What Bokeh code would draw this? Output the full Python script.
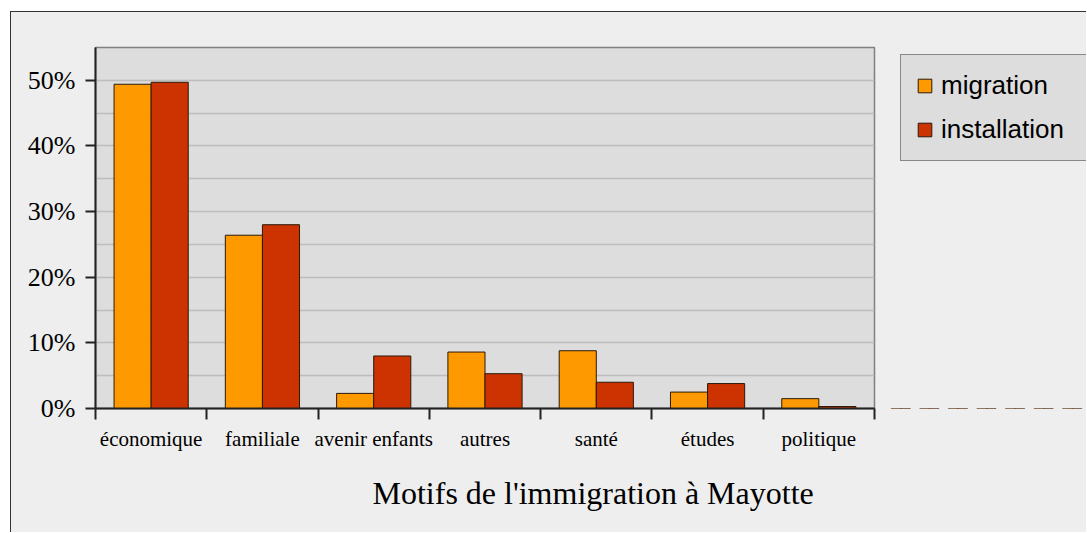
from bokeh.plotting import figure
from bokeh.layouts import row
from bokeh.models import (ColumnDataSource, Range1d, LinearAxis,
                          FixedTicker, SingleIntervalTicker, NumeralTickFormatter, Legend, LegendItem, Title)
from bokeh.transform import dodge
from bokeh.embed import file_html
from bokeh.resources import INLINE

categories = ["économique", "familiale", "avenir enfants", "autres", "santé", "études", "politique"]
migration = [0.494, 0.264, 0.023, 0.086, 0.088, 0.025, 0.015]
installation = [0.497, 0.280, 0.080, 0.053, 0.040, 0.038, 0.003]
series_names = ["migration", "installation"]
series_cols = ["migration", "installation"]
series_colors = ["#ff9900", "#cc3300"]
title_text = "Motifs de l'immigration à Mayotte"

n = len(categories)
centers = [i + 0.5 for i in range(n)]
bounds = list(range(n + 1))
source = ColumnDataSource(dict(cat=categories, pos=centers, migration=migration, installation=installation))

BG = "#eeeeee"

p = figure(width=875, height=520, x_range=Range1d(0, n),
           y_range=Range1d(0, 0.55), output_backend="svg", toolbar_location=None,
           x_axis_location=None, y_axis_location="left",
           min_border_left=84, min_border_top=35, min_border_right=12, min_border_bottom=124)
p.background_fill_color = "#dddddd"
p.border_fill_color = BG
p.outline_line_color = "#808080"
p.outline_line_width = 1.5

# y axis
ya = p.yaxis[0]
ya.ticker = SingleIntervalTicker(interval=0.1, num_minor_ticks=0)
ya.formatter = NumeralTickFormatter(format="0%")
ya.major_label_text_font = "Liberation Serif"
ya.major_label_text_font_size = "26px"
ya.major_label_text_color = "#000000"
ya.major_tick_out = 10
ya.major_tick_in = 0
ya.major_tick_line_width = 2
ya.major_tick_line_color = "#222222"
ya.axis_line_width = 2
ya.axis_line_color = "#222222"
ya.minor_tick_line_color = None
ya.major_label_standoff = 10

p.xgrid.visible = False
p.ygrid.ticker = SingleIntervalTicker(interval=0.05)
p.ygrid.grid_line_color = "#bdbdbd"
p.ygrid.grid_line_width = 1.5

# x axis: labels at category centres, ticks at category boundaries
xa = LinearAxis(ticker=FixedTicker(ticks=centers, minor_ticks=bounds),
                major_label_overrides={c: lab for c, lab in zip(centers, categories)})
xa.axis_line_width = 2
xa.axis_line_color = "#222222"
xa.major_tick_line_color = None
xa.major_tick_out = 11
xa.major_tick_in = 0
xa.minor_tick_line_color = "#222222"
xa.minor_tick_line_width = 2
xa.minor_tick_out = 11
xa.minor_tick_in = 0
xa.major_label_text_font = "Liberation Serif"
xa.major_label_text_font_size = "21px"
xa.major_label_text_color = "#000000"
xa.major_label_standoff = 7
p.add_layout(xa, "below")

t = Title(text=title_text, align="left", offset=277, text_font="Liberation Serif",
          text_font_size="32px", text_font_style="normal", text_color="#000000", standoff=39)
p.add_layout(t, "below")

for i, (col, color) in enumerate(zip(series_cols, series_colors)):
    p.vbar(x=dodge("pos", -1/6 + i/3), top=col, width=1/3, source=source,
           fill_color=color, line_color="#2a1a0a", line_width=1)

# legend panel (its renderers share the data but lie outside this panel's visible range)
q = figure(width=200, height=520, x_range=Range1d(0, n), y_range=Range1d(2, 3),
           output_backend="svg", toolbar_location=None,
           x_axis_location=None, y_axis_location=None,
           min_border_left=0, min_border_right=0, min_border_top=0, min_border_bottom=0)
q.background_fill_alpha = 0
q.border_fill_color = BG
q.outline_line_color = None
q.grid.visible = False
lr = [q.vbar(x=dodge("pos", -1/6 + i/3), top=col, width=1/3, source=source,
             fill_color=color, line_color="#2a1a0a", line_width=1)
      for i, (col, color) in enumerate(zip(series_cols, series_colors))]

legend = Legend(items=[LegendItem(label=s, renderers=[r]) for s, r in zip(series_names, lr)],
                location=(14, 247), orientation="vertical")
legend.background_fill_color = "#dddddd"
legend.background_fill_alpha = 1
legend.border_line_color = "#333333"
legend.border_line_width = 1
legend.label_text_font = "Liberation Sans"
legend.label_text_font_size = "26px"
legend.label_text_color = "#000000"
legend.glyph_width = 17
legend.glyph_height = 17
legend.label_standoff = 8
legend.label_width = 145
legend.padding = 15
legend.spacing = 13
legend.margin = 0
q.add_layout(legend, "center")

layout = row(p, q, spacing=0)
layout.styles = {"margin-left": "10px", "margin-top": "11px", "background-color": BG,
                 "border-left": "1px solid #333333", "border-top": "1px solid #333333"}

open("out.html", "w").write(file_html(layout, INLINE))
